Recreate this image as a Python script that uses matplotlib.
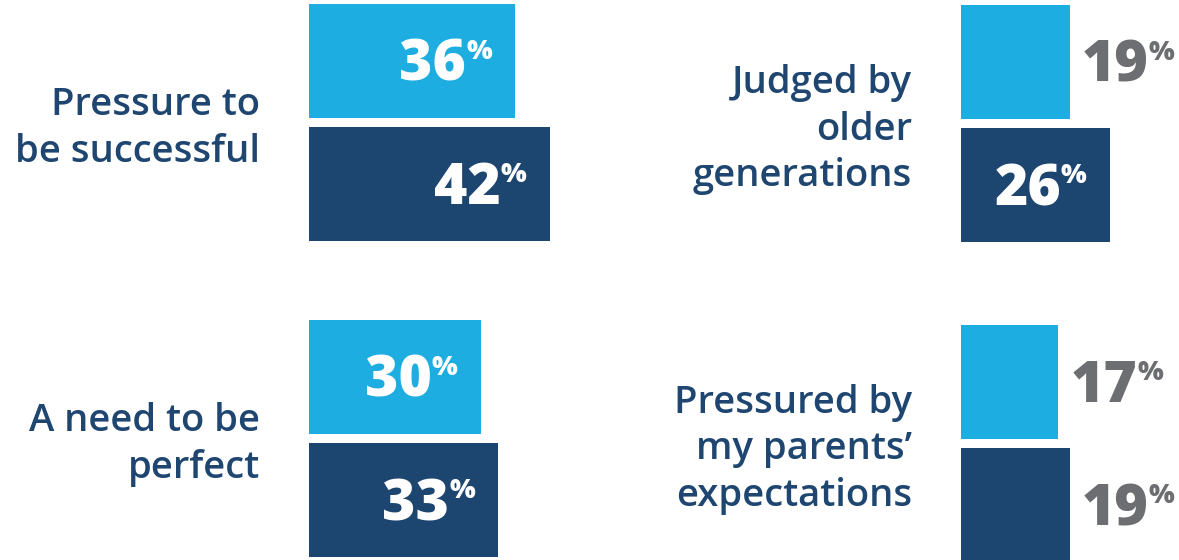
import matplotlib
matplotlib.use("Agg")
import matplotlib.pyplot as plt
from matplotlib import font_manager

# Survey results: share of respondents citing each source of pressure
categories = [
    "Pressure to\nbe successful",
    "Judged by\nolder\ngenerations",
    "A need to be\nperfect",
    "Pressured by\nmy parents’\nexpectations",
]
series_a = [36, 19, 30, 17]   # light blue bars
series_b = [42, 26, 33, 19]   # dark blue bars

LIGHT = "#1EADE0"
DARK = "#1C4570"
LABEL_COLOR = "#1F4670"
GRAY = "#6D6E71"

W, H = 1179, 560
PX_PER_PCT = 5.73
INSIDE_MIN = 20  # values below this are labelled outside the bar

# panel geometry in pixels: (bar origin x, right edge x, top y, bottom y)
panels = [
    (309, 640, 4, 241),
    (961, 1179, 5, 242),
    (309, 640, 320, 557),
    (961, 1179, 325, 562),
]

avail = {f.name for f in font_manager.fontManager.ttflist}
label_font = "Open Sans" if "Open Sans" in avail else "DejaVu Sans"
num_font = "Open Sans" if "Open Sans" in avail else "DejaVu Sans"

fig = plt.figure(figsize=(W / 100, H / 100), dpi=100)
fig.patch.set_facecolor("white")

bar_h = 114 / 124

for cat, a, b, (x0, x1, y0, y1) in zip(categories, series_a, series_b, panels):
    ax = fig.add_axes([x0 / W, 1 - y1 / H, (x1 - x0) / W, (y1 - y0) / H])
    ax.set_xlim(0, (x1 - x0) / PX_PER_PCT)
    ax.set_ylim(1 + bar_h / 2, -bar_h / 2)
    ax.axis("off")
    ax.barh([0, 1], [a, b], height=bar_h, color=[LIGHT, DARK], left=0)

    ax.annotate(cat, xy=(0, 0.5), xycoords="axes fraction",
                xytext=(-49, -6), textcoords="offset pixels",
                ha="right", va="center", multialignment="right",
                fontsize=27.5, fontweight="semibold", family=label_font,
                color=LABEL_COLOR, linespacing=1.3)

    for i, v in enumerate([a, b]):
        inside = v >= INSIDE_MIN
        col = "white" if inside else GRAY
        num = ax.annotate(f"{v}", xy=(v, i), xycoords="data",
                          xytext=(-49 if inside else 12, -20),
                          textcoords="offset pixels",
                          ha="right" if inside else "left", va="baseline",
                          fontsize=41, fontweight="heavy", family=num_font,
                          color=col)
        ax.annotate("%", xy=(1, 1), xycoords=num,
                    xytext=(0, -1), textcoords="offset pixels",
                    ha="left", va="top",
                    fontsize=19.5, fontweight="heavy", family=num_font,
                    color=col)

fig.savefig("out.png", dpi=100, facecolor="white")
